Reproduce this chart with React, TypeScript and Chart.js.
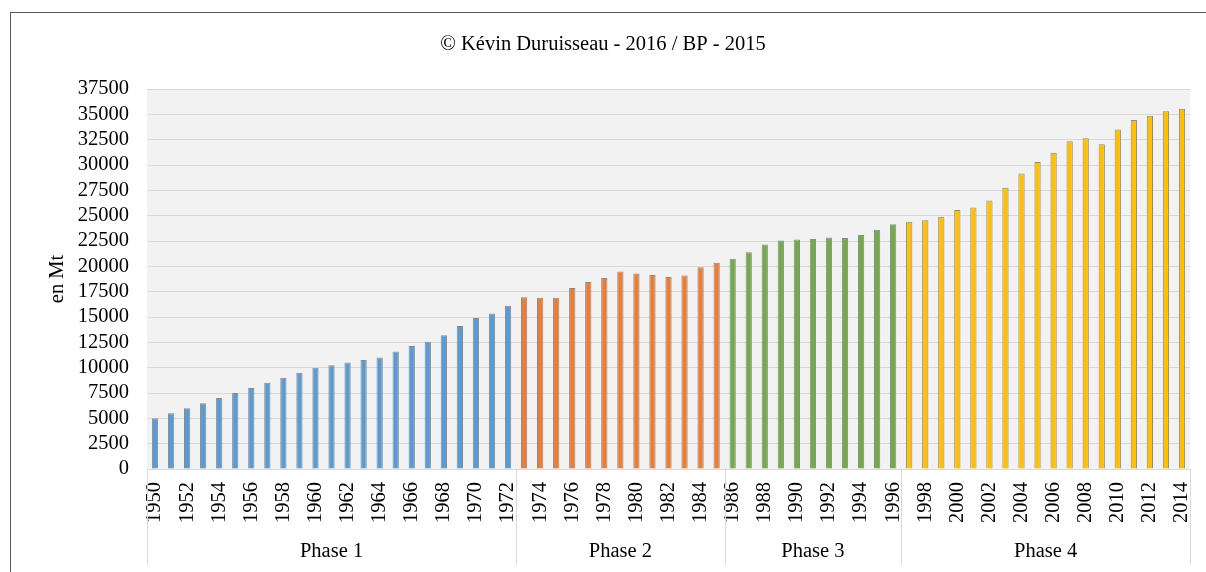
import React, { useEffect, useRef } from "react";
import { Chart, registerables } from "chart.js";

Chart.register(...registerables);

const years: string[] = [
  "1950","1951","1952","1953","1954","1955","1956","1957","1958","1959",
  "1960","1961","1962","1963","1964","1965","1966","1967","1968","1969",
  "1970","1971","1972","1973","1974","1975","1976","1977","1978","1979",
  "1980","1981","1982","1983","1984","1985","1986","1987","1988","1989",
  "1990","1991","1992","1993","1994","1995","1996","1997","1998","1999",
  "2000","2001","2002","2003","2004","2005","2006","2007","2008","2009",
  "2010","2011","2012","2013","2014",
];

const values: number[] = [
  5000, 5500, 6000, 6500, 7000, 7500, 8000, 8500, 9000, 9500,
  10000, 10250, 10500, 10750, 11000, 11600, 12150, 12550, 13200, 14100,
  14900, 15350, 16100, 16950, 16900, 16900, 17850, 18450, 18850, 19500,
  19300, 19150, 18950, 19100, 19900, 20350, 20750, 21400, 22150, 22550,
  22650, 22700, 22850, 22800, 23100, 23600, 24150, 24400, 24550, 24900,
  25550, 25800, 26500, 27750, 29150, 30300, 31200, 32350, 32650, 32050,
  33500, 34450, 34850, 35300, 35550,
];

const phaseNames: string[] = ["Phase 1", "Phase 2", "Phase 3", "Phase 4"];
const phaseCounts: number[] = [23, 13, 11, 18];
const phaseColors: string[] = ["#5B9BD5", "#ED7D31", "#70AD47", "#FFC000"];

const yMin = 0;
const yMax = 37500;
const yStep = 2500;

const titleText = "© Kévin Duruisseau - 2016 / BP - 2015";
const yTitle = "en Mt";

const FONT = "'Liberation Serif', 'Times New Roman', serif";
const FS = 20.5;

export default function App() {
  const ref = useRef<HTMLCanvasElement | null>(null);

  useEffect(() => {
    if (!ref.current) return;
    const barColors: string[] = [];
    phaseCounts.forEach((c, p) => {
      for (let i = 0; i < c; i++) barColors.push(phaseColors[p]);
    });

    const decor = {
      id: "decor",
      beforeDraw(chart: any) {
        const { ctx, chartArea } = chart;
        ctx.save();
        ctx.fillStyle = "#F2F2F2";
        ctx.fillRect(chartArea.left, chartArea.top, chartArea.right - chartArea.left, chartArea.bottom - chartArea.top);
        ctx.restore();
      },
      afterDraw(chart: any) {
        const { ctx, chartArea } = chart;
        const xs = chart.scales.x;
        const n = years.length;
        const catW = (xs.right - xs.left) / n;
        const edge = (i: number) => (i >= n ? xs.getPixelForValue(n - 1) + catW / 2 : xs.getPixelForValue(i) - catW / 2);
        ctx.save();
        ctx.strokeStyle = "#D9D9D9";
        ctx.lineWidth = 1;
        let start = 0;
        const bounds: number[] = [0];
        phaseCounts.forEach((c) => {
          start += c;
          bounds.push(start);
        });
        bounds.forEach((b) => {
          const x = Math.round(edge(b)) + 0.5;
          ctx.beginPath();
          ctx.moveTo(x, chartArea.bottom);
          ctx.lineTo(x, 565);
          ctx.stroke();
        });
        ctx.fillStyle = "#000";
        ctx.font = `${FS}px ${FONT}`;
        ctx.textAlign = "center";
        ctx.textBaseline = "middle";
        phaseNames.forEach((name, i) => {
          const x0 = edge(bounds[i]);
          const x1 = edge(bounds[i + 1]);
          ctx.fillText(name, (x0 + x1) / 2, 552);
        });
        ctx.fillText(titleText, 603, 45);
        ctx.restore();
      },
    };

    const chart = new Chart(ref.current, {
      type: "bar",
      data: {
        labels: years,
        datasets: [
          {
            data: values,
            backgroundColor: barColors,
            borderColor: "#8A8A8A",
            borderWidth: 1,
            barPercentage: 0.39,
            categoryPercentage: 1,
          },
        ],
      },
      options: {
        responsive: false,
        animation: false,
        layout: { padding: { left: 0, right: 16, top: 89, bottom: 0 } },
        plugins: {
          legend: { display: false },
          title: { display: false },
          tooltip: { enabled: false },
        },
        scales: {
          x: {
            grid: { display: false, drawTicks: false },
            border: { display: true, color: "#D9D9D9", width: 1 },
            ticks: {
              autoSkip: false,
              minRotation: 90,
              maxRotation: 90,
              padding: 13,
              color: "#000",
              font: { family: FONT, size: FS },
              callback: (_v: any, i: number) => (i % 2 === 0 ? years[i] : ""),
            },
            afterFit: (s: any) => {
              s.height = 103;
              s.paddingLeft = 0;
              s.paddingRight = 0;
            },
          },
          y: {
            min: yMin,
            max: yMax,
            grid: { color: "#D9D9D9", lineWidth: 1, drawTicks: false },
            border: { display: false },
            ticks: {
              stepSize: yStep,
              autoSkip: false,
              padding: 18,
              color: "#000",
              font: { family: FONT, size: FS },
              callback: (v: any) => String(v),
            },
            title: {
              display: true,
              text: yTitle,
              color: "#000",
              font: { family: FONT, size: FS },
              padding: { top: 45, bottom: 0 },
            },
            afterFit: (s: any) => {
              s.width = 147;
            },
          },
        },
      },
      plugins: [decor],
    });
    return () => chart.destroy();
  }, []);

  return (
    <div style={{ position: "absolute", left: 0, top: 0, width: 1206, height: 572, overflow: "hidden", background: "#fff" }}>
      <div
        style={{
          position: "absolute",
          left: 10,
          top: 12,
          width: 1300,
          height: 700,
          borderLeft: "1px solid #595959",
          borderTop: "1px solid #595959",
        }}
      />
      <canvas ref={ref} width={1206} height={572} style={{ position: "absolute", left: 0, top: 0, display: "block" }} />
    </div>
  );
}
